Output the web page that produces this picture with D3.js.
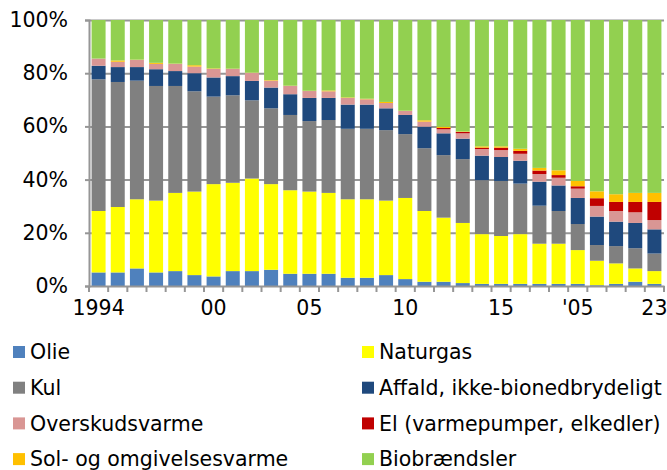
<!DOCTYPE html>
<html>
<head>
<meta charset="utf-8">
<script src="https://cdn.jsdelivr.net/npm/d3@7"></script>
<style>
  body { margin: 0; background: #fff; }
  text { font-family: "DejaVu Sans", Verdana, sans-serif; }
</style>
</head>
<body>
<svg></svg>
<script>
// categories and tick labels
var years = d3.range(1994, 2024);
var tickLabels = ["1994", "", "", "", "", "", "00", "", "", "", "", "05", "", "", "", "",
    "10", "", "", "", "", "15", "", "", "", "'05", "", "", "", "23"];

// shares in percent, 1994..2023
var olie     = [5.1, 5.1, 6.6, 5.1, 5.6, 4.1, 3.6, 5.6, 5.6, 6.1, 4.6, 4.6, 4.6, 3.1, 3.1, 4.1, 2.6, 1.6, 1.6, 1.1, 0.8, 0.8, 0.8, 0.8, 0.8, 0.8, 0.3, 0.8, 1.6, 0.8];
var naturgas = [23.1, 24.6, 26.0, 27.0, 29.4, 31.4, 34.7, 33.2, 34.8, 32.2, 31.4, 30.9, 30.4, 29.5, 29.5, 28.0, 30.5, 26.6, 24.1, 22.6, 18.7, 18.0, 18.7, 15.1, 15.1, 12.7, 9.2, 7.7, 5.0, 4.8];
var kul      = [49.5, 47.0, 44.6, 43.1, 40.2, 37.7, 32.9, 32.9, 29.4, 28.5, 28.3, 26.5, 27.4, 26.5, 26.5, 26.5, 24.0, 23.6, 23.5, 24.0, 20.3, 20.7, 19.0, 14.3, 12.3, 9.8, 5.9, 6.5, 7.6, 6.6];
var affald   = [5.1, 5.6, 5.1, 6.3, 5.6, 6.8, 7.2, 7.2, 7.3, 7.8, 7.8, 8.7, 8.3, 9.1, 9.1, 8.2, 7.2, 8.1, 8.2, 7.7, 9.2, 9.0, 8.6, 9.0, 9.6, 9.8, 10.7, 9.2, 9.5, 9.1];
var overskud = [2.7, 2.0, 2.7, 2.0, 2.7, 2.5, 3.2, 2.7, 3.0, 2.6, 3.1, 2.6, 2.5, 2.5, 2.0, 2.0, 1.5, 1.9, 1.5, 2.0, 2.5, 2.6, 2.6, 2.9, 2.9, 3.5, 4.0, 4.0, 4.0, 3.5];
var el       = [0, 0, 0, 0, 0, 0, 0, 0, 0, 0, 0, 0, 0, 0, 0, 0, 0, 0, 0.5, 0.5, 0.5, 0.9, 1.1, 1.3, 1.0, 0.9, 2.9, 3.4, 3.9, 6.8];
var sol      = [0, 0.5, 0.1, 0.4, 0.1, 0.5, 0.2, 0.1, 0.1, 0.2, 0.1, 0.1, 0.3, 0.2, 0.2, 0.4, 0.1, 0.5, 0.5, 0.2, 0.5, 0.5, 0.8, 1.0, 1.8, 2.0, 2.6, 2.9, 3.4, 3.4];
var bio      = [14.5, 15.2, 14.9, 16.1, 16.4, 17.0, 18.2, 18.3, 19.8, 22.6, 24.7, 26.6, 26.5, 29.1, 29.6, 30.8, 34.1, 37.7, 40.1, 41.9, 47.5, 47.5, 48.4, 55.6, 56.5, 60.5, 64.4, 65.5, 65.0, 65.0];

var seriesNames = ["Olie", "Naturgas", "Kul", "Affald, ikke-bionedbrydeligt", "Overskudsvarme",
    "El (varmepumper, elkedler)", "Sol- og omgivelsesvarme", "Biobrændsler"];
var seriesValues = [olie, naturgas, kul, affald, overskud, el, sol, bio];
var colors = ["#4f81bd", "#ffff00", "#808080", "#1f497d", "#d99694", "#c00000", "#ffc000", "#92d050"];

var svgWidth = 667, svgHeight = 470;
var margin = { top: 20, right: 3, bottom: 184, left: 89 };
var width = svgWidth - margin.left - margin.right;
var height = svgHeight - margin.top - margin.bottom;
var gridColor = "#969696";

var svg = d3.select("svg")
    .attr("width", svgWidth)
    .attr("height", svgHeight);

var g = svg.append("g")
    .attr("transform", "translate(" + margin.left + "," + margin.top + ")");

var x = d3.scaleBand().domain(years).range([0, width]).paddingInner(0.27).paddingOuter(0.135);
var y = d3.scaleLinear().domain([0, 1]).range([height, 0]);

// rows for stacking
var table = years.map(function (yr, i) {
    var row = { year: yr };
    seriesNames.forEach(function (name, k) { row[name] = seriesValues[k][i]; });
    return row;
});
var stacked = d3.stack().keys(seriesNames).offset(d3.stackOffsetExpand)(table);

// gridlines
g.append("g")
    .call(d3.axisLeft(y).tickValues([0.2, 0.4, 0.6, 0.8, 1]).tickSize(-width).tickFormat(""))
    .call(function (s) {
        s.select(".domain").remove();
        s.selectAll("line").attr("stroke", gridColor).attr("stroke-width", 2);
    });

// bars
g.selectAll(".layer")
    .data(stacked)
    .enter().append("g")
    .attr("fill", function (d, i) { return colors[i]; })
    .selectAll("rect")
    .data(function (d) { return d; })
    .enter().append("rect")
    .attr("x", function (d) { return x(d.data.year); })
    .attr("width", x.bandwidth())
    .attr("y", function (d) { return y(d[1]); })
    .attr("height", function (d) { return y(d[0]) - y(d[1]); });

// y axis
g.append("g")
    .call(d3.axisLeft(y).tickValues([0, 0.2, 0.4, 0.6, 0.8, 1]).tickSize(4).tickPadding(17).tickFormat(d3.format(".0%")))
    .call(function (s) {
        s.select(".domain").attr("stroke", gridColor).attr("stroke-width", 2);
        s.selectAll("line").attr("stroke", gridColor).attr("stroke-width", 2);
        s.selectAll("text").attr("font-size", "20.5px").attr("fill", "#000");
    });

// x axis: labels at centres, ticks at category boundaries
var xAxis = g.append("g")
    .attr("transform", "translate(0," + height + ")")
    .call(d3.axisBottom(x).tickSize(0).tickPadding(14).tickFormat(function (d, i) { return tickLabels[i]; }));
xAxis.select(".domain").attr("stroke", gridColor).attr("stroke-width", 2);
xAxis.selectAll("text").attr("font-size", "20.5px").attr("fill", "#000");

var step = x.step();
xAxis.selectAll(".bound")
    .data(d3.range(years.length + 1))
    .enter().append("line")
    .attr("x1", function (i) { return x(years[0]) - x.step() * x.paddingInner() / 2 + i * step; })
    .attr("x2", function (i) { return x(years[0]) - x.step() * x.paddingInner() / 2 + i * step; })
    .attr("y1", 0)
    .attr("y2", 6)
    .attr("stroke", gridColor)
    .attr("stroke-width", 2);

// legend, two columns
var legend = svg.append("g");
var item = legend.selectAll("g")
    .data(seriesNames)
    .enter().append("g")
    .attr("transform", function (d, i) {
        return "translate(" + (i % 2 === 0 ? 13 : 362) + "," + (352 + Math.floor(i / 2) * 35.7) + ")";
    });
item.append("rect")
    .attr("y", -6)
    .attr("width", 12)
    .attr("height", 12)
    .attr("fill", function (d, i) { return colors[i]; });
item.append("text")
    .attr("x", 17)
    .attr("dy", "0.35em")
    .attr("font-size", "20.5px")
    .attr("fill", "#000")
    .text(function (d) { return d; });
</script>
</body>
</html>
